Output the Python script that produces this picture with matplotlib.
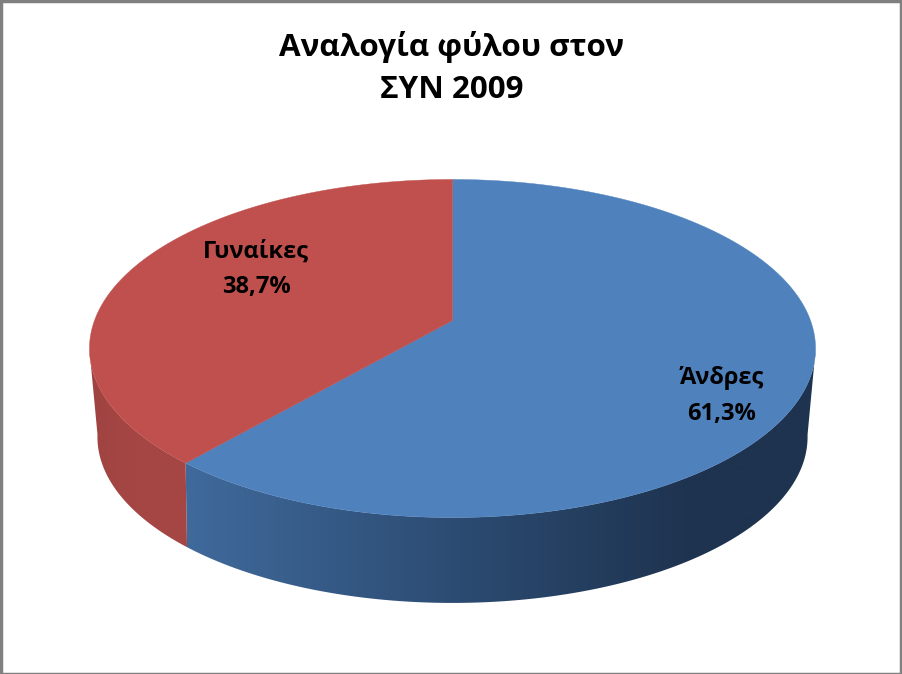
import numpy as np
import matplotlib
matplotlib.use("Agg")
import matplotlib.pyplot as plt
from matplotlib.patches import Rectangle, Polygon
from matplotlib.colors import LinearSegmentedColormap

categories = ["Άνδρες", "Γυναίκες"]
values = [61.3, 38.7]
value_labels = ["61,3%", "38,7%"]
title_text = "Αναλογία φύλου στον\nΣΥΝ 2009"
top_colors = ["#4f81bd", "#c0504d"]
wall_stops = [
    [(0.0, "#406a9c"), (0.45, "#2b4a70"), (0.8, "#1e334f"), (1.0, "#1e334f")],
    [(0.0, "#9e4341"), (0.45, "#a54644"), (1.0, "#a54644")],
]
wall_extent = [(185, 820), (85, 195)]
label_pos = [(722, 396), (256, 269.5)]

CX = 452.5

def project(theta, cy, rx, ry, k):
    u, v = np.sin(theta), np.cos(theta)
    w = 1 + k * v
    return CX + rx * u / w, cy - ry * v / w

TOP = dict(cy=320.5, rx=358, ry=164.4, k=0.1657)
BOT = dict(cy=405.4, rx=348.6, ry=160, k=0.19)

fig = plt.figure(figsize=(9.03, 6.74), dpi=100, facecolor="white")
ax = fig.add_axes([0, 0, 1, 1])
ax.set_xlim(0, 903)
ax.set_ylim(674, 0)
ax.axis("off")
ax.add_patch(Rectangle((1.5, 0.5), 900, 673, fill=False, ec="#808080", lw=2.5))

fractions = np.array(values) / sum(values)
edges = np.concatenate([[0], np.cumsum(fractions)]) * 2 * np.pi

# side wall: a horizontal gradient clipped to the visible outline of each slice's wall
for i in range(len(values)):
    ts = np.linspace(edges[i], edges[i + 1], 800)
    ts = ts[np.cos(ts) <= -0.175]
    xt, yt = project(ts, **TOP)
    xb, yb = project(ts, **BOT)
    cmap = LinearSegmentedColormap.from_list(f"wall{i}", wall_stops[i])
    x0, x1 = wall_extent[i]
    im = ax.imshow(np.linspace(0, 1, 512)[None, :], cmap=cmap, vmin=0, vmax=1, aspect="auto",
                   extent=(x0, x1, 674, 0), zorder=2, interpolation="bilinear")
    poly = Polygon(np.c_[np.r_[xt, xb[::-1]], np.r_[yt, yb[::-1]]], closed=True,
                   transform=ax.transData, fc="none", ec="none")
    ax.add_patch(poly)
    im.set_clip_path(poly)
ax.set_xlim(0, 903)
ax.set_ylim(674, 0)

# top face
for i in range(len(values)):
    ts = np.linspace(edges[i], edges[i + 1], 400)
    x, y = project(ts, **TOP)
    ax.fill(np.r_[CX, x], np.r_[TOP["cy"], y], color=top_colors[i], lw=0.3, zorder=3)

ff = ["Open Sans", "DejaVu Sans"]
ax.text(452, 68, title_text, ha="center", va="center", fontsize=22.6, family=ff,
        weight="bold", color="black", linespacing=1.52, zorder=5)
for name, val, (lx, ly) in zip(categories, value_labels, label_pos):
    ax.text(lx, ly, f"{name}\n{val}", ha="center", va="center", fontsize=17, family=ff,
            weight="bold", color="black", linespacing=1.63, zorder=5)

fig.savefig("out.png", dpi=100, facecolor="white")
